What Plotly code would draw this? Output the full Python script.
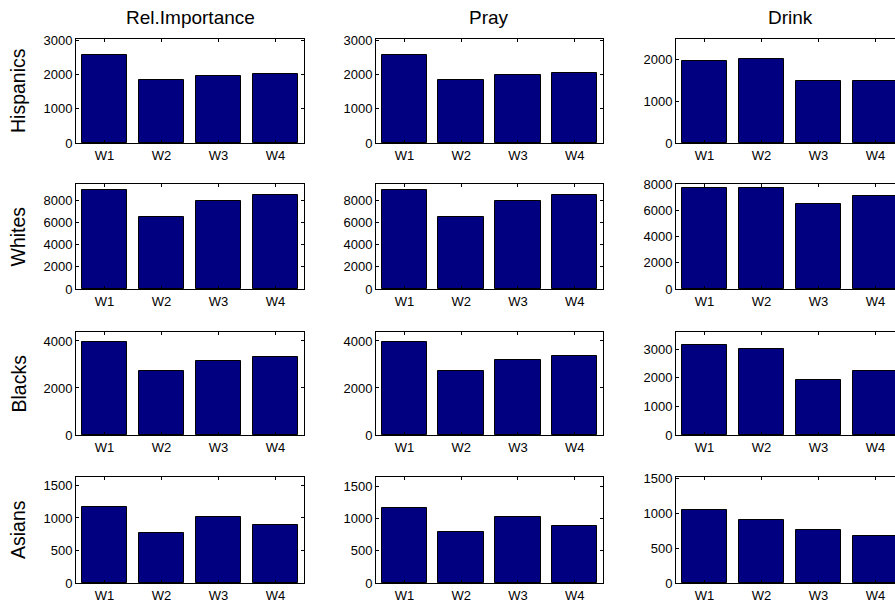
import plotly.graph_objs as go
from plotly.subplots import make_subplots

# Categories
waves = ['W1', 'W2', 'W3', 'W4']
groups = ['Hispanics', 'Whites', 'Blacks', 'Asians']
measures = ['Rel.Importance', 'Pray', 'Drink']

# Values read per group (Rel.Importance, Pray, Drink)
hispanics_rel = [2580, 1850, 1970, 2030]
hispanics_pray = [2580, 1840, 2000, 2035]
hispanics_drink = [1980, 2010, 1500, 1490]

whites_rel = [8970, 6470, 8000, 8520]
whites_pray = [8970, 6470, 8000, 8520]
whites_drink = [7670, 7670, 6520, 7100]

blacks_rel = [3960, 2730, 3150, 3320]
blacks_pray = [3960, 2740, 3180, 3350]
blacks_drink = [3160, 3020, 1920, 2240]

asians_rel = [1165, 775, 1020, 895]
asians_pray = [1165, 790, 1015, 885]
asians_drink = [1050, 910, 765, 680]

# Y limits and tick step per panel (row x column)
y_max = [[3040, 3040, 2500],
         [9500, 9500, 8010],
         [4380, 4380, 3600],
         [1630, 1640, 1525]]
y_step = [[1000, 1000, 1000],
          [2000, 2000, 2000],
          [2000, 2000, 1000],
          [500, 500, 500]]

valores = [[hispanics_rel, hispanics_pray, hispanics_drink],
           [whites_rel, whites_pray, whites_drink],
           [blacks_rel, blacks_pray, blacks_drink],
           [asians_rel, asians_pray, asians_drink]]

W, H = 895, 602
# pixel boxes of the axes (left, right) and (top, bottom)
col_px = [(76, 304), (376, 603), (676, 904)]
row_px = [(39, 143), (184, 289), (332, 435), (477, 583)]

FONT = 'Liberation Sans, Arial, sans-serif'
COR_BARRA = '#000080'

fig = make_subplots(rows=4, cols=3)

for r in range(4):
    for c in range(3):
        fig.add_trace(go.Bar(x=[1, 2, 3, 4], y=valores[r][c], width=0.8,
                             marker=dict(color=COR_BARRA,
                                         line=dict(color='black', width=1)),
                             showlegend=False),
                      row=r + 1, col=c + 1)

        left, right = col_px[c]
        top, bottom = row_px[r]
        x_end = 4.5
        if right > W:
            # third column runs past the edge of the picture
            x_end = 0.5 + 4.0 * (W - left) / (right - left)
            right = W
        fig.update_xaxes(domain=[left / W, right / W], range=[0.5, x_end],
                         tickvals=[1, 2, 3, 4], ticktext=waves,
                         ticks='inside', ticklen=3, tickcolor='black',
                         showline=True, linecolor='black', linewidth=1,
                         mirror='ticks', showgrid=False, zeroline=False,
                         automargin=False,
                         tickfont=dict(family=FONT, size=13, color='black'),
                         fixedrange=True, row=r + 1, col=c + 1)
        fig.update_yaxes(domain=[1 - bottom / H, 1 - top / H],
                         range=[0, y_max[r][c]], dtick=y_step[r][c], tick0=0,
                         ticks='inside', ticklen=3, tickcolor='black',
                         showline=True, linecolor='black', linewidth=1,
                         mirror='ticks' if c < 2 else False,
                         showgrid=False, zeroline=False, automargin=False,
                         tickfont=dict(family=FONT, size=13, color='black'),
                         fixedrange=True, row=r + 1, col=c + 1)

# Column titles
for c, nome in enumerate(measures):
    left, right = col_px[c]
    fig.add_annotation(text=nome, xref='paper', yref='paper',
                       x=(left + right) / 2 / W, y=1 - 18 / H,
                       showarrow=False, xanchor='center', yanchor='middle',
                       font=dict(family=FONT, size=19, color='black'))

# Row labels
for r, nome in enumerate(groups):
    top, bottom = row_px[r]
    fig.add_annotation(text=nome, xref='paper', yref='paper',
                       x=18 / W, y=1 - (top + bottom) / 2 / H,
                       showarrow=False, textangle=-90,
                       xanchor='center', yanchor='middle',
                       font=dict(family=FONT, size=19.5, color='black'))

fig.update_layout(template='none', width=W, height=H,
                  margin=dict(l=0, r=0, t=0, b=0, autoexpand=False),
                  plot_bgcolor='white', paper_bgcolor='white',
                  bargap=0)

# tirar a margem da página para a figura começar em (0, 0)
fig.write_html('out.html', config={'displayModeBar': False},
               post_script="document.body.style.margin='0';"
                           "document.body.style.overflow='hidden';")
